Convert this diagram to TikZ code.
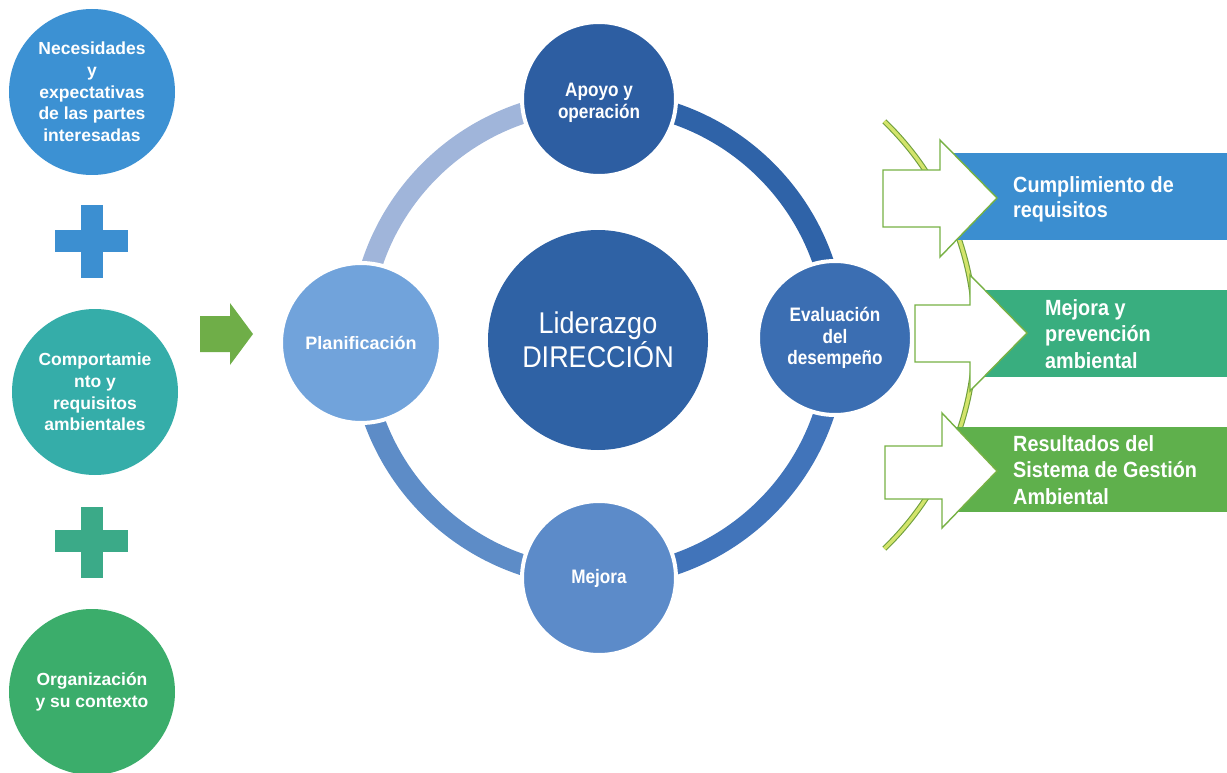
\documentclass[tikz,border=0pt]{standalone}
\usepackage{fontspec}
\setmainfont{Liberation Sans}
\newfontfamily\condf{Liberation Sans}[FakeStretch=0.88]
\newfontfamily\condg{Liberation Sans}[FakeStretch=0.9]
\definecolor{cNec}{HTML}{3C91D3}
\definecolor{cComp}{HTML}{35ADA9}
\definecolor{cOrg}{HTML}{3BAD6B}
\definecolor{cPlusA}{HTML}{3C8FD1}
\definecolor{cPlusB}{HTML}{3BAA88}
\definecolor{cGA}{HTML}{6FAE48}
\definecolor{cApoyo}{HTML}{2D5EA2}
\definecolor{cLid}{HTML}{2F62A5}
\definecolor{cEval}{HTML}{3B6EB2}
\definecolor{cMejora}{HTML}{5C8BC9}
\definecolor{cPlan}{HTML}{71A3DB}
\definecolor{sTL}{HTML}{A0B5DA}
\definecolor{sTR}{HTML}{2F63A8}
\definecolor{sBR}{HTML}{4174BA}
\definecolor{sBL}{HTML}{5D8CC7}
\definecolor{cBa}{HTML}{3B8ED0}
\definecolor{cBb}{HTML}{39AE7F}
\definecolor{cBc}{HTML}{5FB04C}
\definecolor{cOut}{HTML}{77B144}
\definecolor{cCurveO}{HTML}{6E9E3C}
\definecolor{cCurveI}{HTML}{D3E46B}
\begin{document}
\begin{tikzpicture}[x=1pt,y=-1pt,
  lcirc/.style={circle, minimum size=166pt, inner sep=0pt, text=white, align=center,
    font=\bfseries\fontsize{17.5}{21.7}\selectfont},
  ccirc/.style={circle, draw=white, line width=4pt, inner sep=0pt, minimum size=154pt,
    text=white, align=center, font=\condf\bfseries\fontsize{19.5}{21.5}\selectfont},
  ringseg/.style={line width=21pt},
  warrow/.style={draw=cOut, line width=1.4pt, fill=white, line join=miter},
  btext/.style={text=white, align=left, inner sep=0pt, anchor=west,
    font=\condg\bfseries\fontsize{22}{26.5}\selectfont},
  bracket/.style={draw=cCurveO, line width=1.1pt, double=cCurveI, double distance=3.4pt}
]
\useasboundingbox (0,0) rectangle (1227,773);

% left column
\node[lcirc, fill=cNec] (nec) at (92,92) {Necesidades\\y\\expectativas\\de las partes\\interesadas};
\node[lcirc, fill=cComp] (comp) at (95,392) {Comportamie\\nto y\\requisitos\\ambientales};
\node[lcirc, fill=cOrg] (org) at (92,692) {Organización\\y su contexto};
\fill[cPlusA] (81,205) rectangle (103,278);
\fill[cPlusA] (55,230) rectangle (128,252);
\fill[cPlusB] (81,507) rectangle (103,578);
\fill[cPlusB] (55,530) rectangle (128,552);
\fill[cGA] (200,316) -- (230,316) -- (230,303) -- (253,334) -- (230,365) -- (230,352) -- (200,352) -- cycle;

% ring
\coordinate (rc) at (598,339);
\draw[ringseg, sTL] (rc) ++(180:238) arc[start angle=180, end angle=270, radius=238];
\draw[ringseg, sTR] (rc) ++(270:238) arc[start angle=270, end angle=360, radius=238];
\draw[ringseg, sBR] (rc) ++(0:238) arc[start angle=0, end angle=90, radius=238];
\draw[ringseg, sBL] (rc) ++(90:238) arc[start angle=90, end angle=180, radius=238];

\node[circle, fill=cLid, minimum size=220pt, inner sep=0pt, text=white, align=center,
  font=\condg\fontsize{30}{34}\selectfont] (lid) at (598,340) {Liderazgo\\DIRECCIÓN};
\node[ccirc, fill=cApoyo] (apoyo) at (599,99) {};
\node[text=white, align=center, inner sep=0pt, font=\condf\bfseries\fontsize{19.5}{21.5}\selectfont] (apoyoT) at (599,103) {Apoyo y\\operación};
\node[ccirc, fill=cEval] (eval) at (835,338) {Evaluación\\del\\desempeño};
\node[ccirc, fill=cMejora] (mejora) at (599,578) {Mejora};
\node[ccirc, fill=cPlan, minimum size=160pt, font=\bfseries\fontsize{18}{21.5}\selectfont] (plan) at (361,343) {Planificación};

% right side
\draw[bracket] (678,335) ++(-46:297) arc[start angle=-46, end angle=46, radius=297];
\fill[cBa] (945,153) rectangle (1227,240);
\fill[cBb] (975,290) rectangle (1227,377);
\fill[cBc] (950,427) rectangle (1227,512);
\draw[warrow] (883,170) -- (940,170) -- (940,140) -- (997,198) -- (940,257) -- (940,227) -- (883,227) -- cycle;
\draw[warrow] (915,305) -- (970,305) -- (970,275) -- (1027,333) -- (970,391) -- (970,362) -- (915,362) -- cycle;
\draw[warrow] (885,446) -- (942,446) -- (942,413) -- (997,471) -- (942,528) -- (942,499) -- (885,499) -- cycle;
\node[btext, font=\condg\bfseries\fontsize{22}{25}\selectfont] (t1) at (1013,199) {Cumplimiento de\\requisitos};
\node[btext] (t2) at (1045,334) {Mejora y\\prevención\\ambiental};
\node[btext] (t3) at (1013,470) {Resultados del\\Sistema de Gestión\\Ambiental};
\end{tikzpicture}
\end{document}
